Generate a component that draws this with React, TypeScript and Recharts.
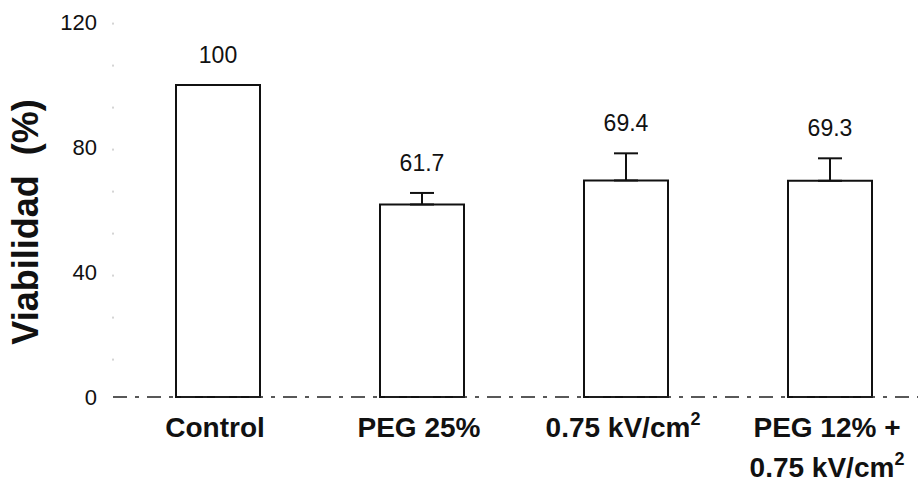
import { BarChart, Bar, XAxis, YAxis, ErrorBar, LabelList } from "recharts"

const categories = ["Control", "PEG 25%", "0.75 kV/cm²", "PEG 12% +\n0.75 kV/cm²"]
const viability = [100, 61.7, 69.4, 69.3]
const errorUp = [0, 3.7, 8.7, 7.2]
const yTicks = [0, 40, 80, 120]

const data = categories.map((name, i) => ({ name, value: viability[i], err: [0, errorUp[i]] }))

const FONT = '"Liberation Sans", Arial, sans-serif'

// multi-line category label, trailing ² drawn as a raised small 2
const CategoryTick = (props: any) => {
  const { x, y, payload } = props
  const lines = String(payload.value).split("\n")
  return (
    <g>
      {lines.map((line, i) => {
        const sup = line.endsWith("²")
        const main = sup ? line.slice(0, -1) : line
        return (
          <text
            key={i}
            x={x - 3}
            y={y + 40 + i * 40}
            textAnchor="middle"
            fontFamily={FONT}
            fontWeight="bold"
            fontSize={28}
            fill="#111"
          >
            {main}
            {sup && (
              <tspan fontSize={18} dy={-12}>
                2
              </tspan>
            )}
          </text>
        )
      })}
    </g>
  )
}

// value printed above the error cap
const ValueLabel = (props: any) => {
  const vb = props.viewBox ?? props
  const { x, y, width, height } = vb
  const { value, index } = props
  const perUnit = height / value
  const top = y - errorUp[index] * perUnit
  return (
    <text x={x + width / 2} y={top - 22} textAnchor="middle" fontFamily={FONT} fontSize={23} fill="#111">
      {value}
    </text>
  )
}

const App = () => {
  return (
    <div
      style={{ position: "absolute", left: 0, top: 0, width: 918, height: 486, overflow: "hidden", background: "#fff" }}
    >
      <BarChart
        width={940}
        height={486}
        data={data}
        margin={{ top: 22.6, right: 8, bottom: 0, left: 0 }}
        barSize={84}
      >
        <XAxis
          dataKey="name"
          height={89}
          padding={{ left: 3, right: 0 }}
          tickLine={false}
          tickSize={0}
          tickMargin={0}
          interval={0}
          axisLine={{ stroke: "#222", strokeWidth: 1.5, strokeDasharray: "14 8 4 8" }}
          tick={<CategoryTick />}
        />
        <YAxis
          width={113}
          domain={[0, 120]}
          ticks={yTicks}
          tickLine={false}
          tickSize={0}
          tickMargin={16}
          axisLine={{ stroke: "#aaa", strokeDasharray: "2 40" }}
          tick={{ fontFamily: FONT, fontSize: 22, fill: "#111" }}
          label={{
            content: () => (
              <text
                x={38}
                y={222}
                transform="rotate(-90 38 222)"
                textAnchor="middle"
                fontFamily={FONT}
                fontWeight="bold"
                fontSize={36}
                fill="#111"
                style={{ whiteSpace: "pre" }}
              >
                Viabilidad  (%)
              </text>
            ),
          }}
        />
        <Bar dataKey="value" fill="#fff" stroke="#111" strokeWidth={2} isAnimationActive={false}>
          <ErrorBar dataKey="err" width={12} stroke="#111" strokeWidth={2} direction="y" />
          <LabelList dataKey="value" content={<ValueLabel />} />
        </Bar>
      </BarChart>
    </div>
  )
}

export default App
